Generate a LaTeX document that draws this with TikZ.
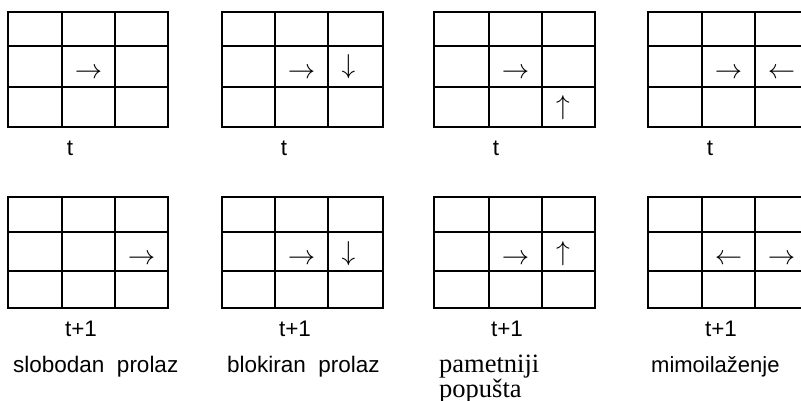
\documentclass[tikz,border=0pt]{standalone}
\usepackage{graphicx}
\usepackage{fontspec}
\setmainfont{Liberation Sans}
\newfontfamily\serifx{Liberation Serif}
\newcommand{\bigarr}[1]{\scalebox{1.1}{\fontsize{24.88}{25}\selectfont$#1$}}
\tikzset{
  gridline/.style={line width=1.9pt, line join=miter},
  arr/.style={inner sep=0pt},
  lbl/.style={inner sep=0pt, anchor=base, font=\fontsize{22.5}{27}\selectfont},
  capsans/.style={inner sep=0pt, anchor=base west, font=\fontsize{22.5}{27}\selectfont},
  capserif/.style={inner sep=0pt, anchor=base west, font=\serifx\fontsize{26.5}{26.5}\selectfont}
}
\begin{document}
\begin{tikzpicture}[x=1pt,y=-1pt]
\useasboundingbox (0,0) rectangle (801,401);
\fill[white] (0,0) rectangle (801,401);
% grids
\foreach \a/\b/\c/\d in {8/62/115/168, 222/275/328/383, 434/489/542/595, 648/702/755/808} {
  \foreach \p/\q/\r/\s in {12/46/87/127, 197/232/271/308} {
    \draw[gridline] (\a,\p) rectangle (\d,\s);
    \draw[gridline] (\b,\p) -- (\b,\s) (\c,\p) -- (\c,\s) (\a,\q) -- (\d,\q) (\a,\r) -- (\d,\r);
  }
}
% arrows, time t
\node[arr] (a1) at (88.5,73) {\bigarr{\rightarrow}};
\node[arr] (a2) at (301.5,73) {\bigarr{\rightarrow}};
\node[arr] (a2d) at (348.5,67) {\bigarr{\downarrow}};
\node[arr] (a3) at (515.5,73) {\bigarr{\rightarrow}};
\node[arr] (a3u) at (563,108) {\bigarr{\uparrow}};
\node[arr] (a4) at (728.5,73) {\bigarr{\rightarrow}};
\node[arr] (a4l) at (781.5,73) {\bigarr{\leftarrow}};
% arrows, time t+1
\node[arr] (b1) at (141.5,259) {\bigarr{\rightarrow}};
\node[arr] (b2) at (301.5,259) {\bigarr{\rightarrow}};
\node[arr] (b2d) at (348.5,254) {\bigarr{\downarrow}};
\node[arr] (b3) at (515.5,259) {\bigarr{\rightarrow}};
\node[arr] (b3u) at (563,254) {\bigarr{\uparrow}};
\node[arr] (b4l) at (728.5,259) {\bigarr{\leftarrow}};
\node[arr] (b4) at (781.5,259) {\bigarr{\rightarrow}};
% labels
\node[lbl] (t1) at (70,156) {t};
\node[lbl] (t2) at (284,156) {t};
\node[lbl] (t3) at (496,156) {t};
\node[lbl] (t4) at (710,156) {t};
\node[lbl] (u1) at (81,336) {t+1};
\node[lbl] (u2) at (295,336) {t+1};
\node[lbl] (u3) at (507,336) {t+1};
\node[lbl] (u4) at (721,336) {t+1};
\node[capsans] (c1) at (13,372) {slobodan\ \ prolaz};
\node[capsans] (c2) at (227,372) {blokiran\ \ prolaz};
\node[capserif] (c3) at (439,372) {pametniji};
\node[capserif] (c3b) at (439,397) {popušta};
\node[capsans, font=\fontsize{22}{25}\selectfont] (c4) at (651,372) {mimoilaženje};
\end{tikzpicture}
\end{document}
